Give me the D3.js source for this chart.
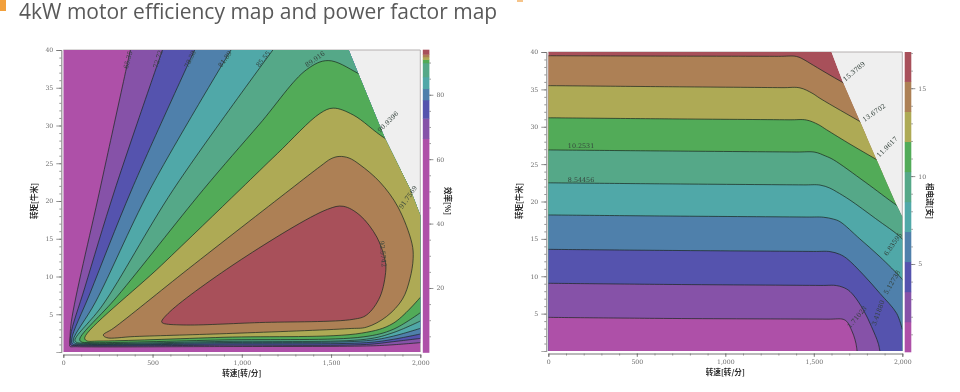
<!DOCTYPE html>
<html>
<head>
<meta charset="utf-8">
<script src="https://cdn.jsdelivr.net/npm/d3@7"></script>
<style>
  html, body { margin: 0; background: #fff; }
  svg { display: block; filter: blur(0.35px); }
</style>
</head>
<body>
<svg id="chart" width="960" height="392"></svg>
<script>
// band colours, low to high (both maps share them)
const bandColors = ["#ae50a8", "#8652a8", "#5553ae", "#4f80ab", "#50a8a8", "#55a888", "#52ab58", "#aeaa55", "#ad8055", "#a8505a"];

const speedTicks = [0, 500, 1000, 1500, 2000];
const torqueTicks = [5, 10, 15, 20, 25, 30, 35, 40];

// efficiency map: [speed, torque]
const effEnvelope = [[0, 0], [0, 40], [1599, 40], [1651, 37], [1802, 28.3], [1945, 21.5], [2000, 18.1], [2000, 0]];
const effC1 = [[385, 41], [205, 21.5], [45, 4], [37, 1.3], [37, 0.75], [70, 0.7], [900, 0.72], [1699, 0.8], [1830, 0.93], [2000, 1.24]];
const effC2 = [[570, 41], [289, 21.5], [120, 8.5], [41, 2.2], [42, 0.95], [75, 0.85], [900, 0.9], [1699, 1], [1848, 1.37], [2000, 1.8]];
const effC3 = [[755, 41], [383, 21.5], [150, 7.8], [47, 1.7], [52, 1.05], [90, 0.95], [900, 1.08], [1699, 1.24], [1848, 1.68], [2000, 2.38]];
const effC4 = [[965, 41], [485, 21.5], [180, 6.6], [56, 1.6], [62, 1.2], [105, 1.05], [900, 1.25], [1699, 1.5], [1848, 2.1], [2000, 3.13]];
const effC5 = [[1205, 41], [616, 21.5], [220, 6.2], [65, 1.6], [72, 1.3], [115, 1.15], [900, 1.4], [1699, 1.7], [1848, 2.56], [2000, 4.1]];
const effC6 = [[1886, 33.4], [1652, 36.9], [1484, 38.6], [1363, 37.4], [1100, 30.2], [784, 21.5], [300, 7.3], [92, 1.7], [100, 1.35], [150, 1.25], [900, 1.6], [1680, 2], [1848, 3], [2000, 5.2]];
const effC7 = [[2035, 25.4], [1802, 28.3], [1624, 31.4], [1512, 32.3], [1438, 31.6], [1200, 26.3], [990, 21.5], [550, 11.5], [120, 1.9], [130, 1.5], [200, 1.45], [900, 1.95], [1671, 2.5], [1848, 3.8], [2000, 7.24]];
const effC8 = [[224, 2.25], [280, 3.13], [700, 11], [1270, 21.5], [1440, 24.6], [1500, 25.6], [1545, 25.9], [1600, 25.7], [1662, 24.8], [1774, 22.5], [1875, 19.2], [1953, 14.4], [1960, 12.4], [1942, 9.7], [1900, 7], [1811, 4.7], [1700, 3.3], [1600, 3.1], [950, 2.47], [400, 2.05], [243, 1.9]];
const effC9 = [[551, 4], [597, 5.34], [1000, 12.3], [1480, 18.9], [1568, 19.3], [1662, 18.1], [1757, 15.2], [1802, 12.2], [1807, 10.9], [1774, 7.3], [1699, 4.9], [1624, 4.33], [1100, 3.9], [672, 3.58], [560, 3.8]];
const effBandEdges = [0, 66.4, 72.7, 78.4, 81.9, 85.55, 89.9, 90.94, 91.76, 92.57, 94];
const effBarTicks = [20, 40, 60, 80];
const effLabelText = ["65.35", "72.72", "78.38", "81.89", "85.55", "89.916", "90.9396", "91.7569", "92.5742"];
const effLabelAt = [[362, 38.7], [530, 38.8], [710, 38.8], [906, 38.8], [1119, 38.8], [1410, 38.8], [1819, 30.5], [1931, 20.5], [1791, 13]];
const effLabelAngle = [-75, -72, -65, -55, -50, -35, -45, -55, 85];

// phase current map
const curEnvelope = [[0, 0], [0, 40], [1600, 40], [1666, 35.9], [1761, 30.7], [1855, 25.6], [1968, 19.5], [2000, 18], [2000, 0]];
const curC9 = [[0, 39.5], [700, 39.45], [1300, 39.42], [1403, 39.4], [1450, 38.9], [1478, 38.5], [1570, 37.2], [1666, 35.9], [1798, 34.3]];
const curC8 = [[0, 35.5], [700, 35.35], [1320, 35.23], [1422, 35.2], [1490, 34.5], [1535, 33.8], [1650, 32.2], [1761, 30.7], [1892, 28.9]];
const curC7 = [[0, 31.2], [700, 31.05], [1360, 30.93], [1459, 30.9], [1525, 30.3], [1572, 29.6], [1710, 27.6], [1855, 25.6], [1986, 23.8]];
const curC6 = [[0, 26.9], [700, 26.75], [1400, 26.62], [1506, 26.6], [1565, 26.1], [1610, 25.6], [1790, 22.6], [1968, 19.5], [2043, 18.4]];
const curC5 = [[0, 22.5], [700, 22.35], [1440, 22.22], [1535, 22.2], [1590, 21.8], [1629, 21.3], [1704, 20.2], [1850, 17.7], [1996, 15.1], [2040, 13.8]];
const curC4 = [[0, 18.2], [700, 18.05], [1460, 17.92], [1553, 17.9], [1610, 17.65], [1648, 17.3], [1760, 15], [1874, 12.6], [1996, 9.7], [2030, 8.7]];
const curC3 = [[0, 13.6], [700, 13.45], [1500, 13.32], [1591, 13.3], [1645, 12.95], [1685, 12.4], [1780, 10.2], [1874, 7.7], [1968, 5.04], [2000, 2.9]];
const curC2 = [[0, 9.06], [700, 8.9], [1540, 8.77], [1629, 8.75], [1685, 8.3], [1723, 7.5], [1780, 5.5], [1826, 3.26], [1864, 1.03], [1874, -0.1]];
const curC1 = [[0, 4.5], [700, 4.35], [1580, 4.26], [1666, 4.24], [1690, 3.85], [1704, 3.26], [1725, 2.1], [1738, 1.03], [1745, -0.1]];
const curBandEdges = [0, 1.71, 3.42, 5.13, 6.84, 8.54, 10.25, 11.96, 13.67, 15.38, 17.06];
const curBarTicks = [5, 10, 15];
const curLabelText = ["15.3789", "13.6702", "11.9617", "10.2531", "8.54456", "6.83595", "5.12738", "3.41880", "1.71023"];
const curLabelAt = [[1727, 37.4], [1840, 31.9], [1914, 27.3], [185, 27.4], [185, 22.9], [1947, 14.3], [1942, 9.2], [1863, 5.1], [1744, 4.55]];
const curLabelAngle = [-40, -35, -45, 0, 0, -55, -60, -70, -50];

const svg = d3.select("#chart");
const CJK = "'Noto Sans CJK SC', sans-serif";

svg.append("rect").attr("x", 0).attr("y", 0).attr("width", 6).attr("height", 11).attr("fill", "#f2a03c");
svg.append("rect").attr("x", 517).attr("y", 0).attr("width", 6).attr("height", 2).attr("fill", "#f6c48a");
svg.append("text").attr("x", 19).attr("y", 18.5).attr("fill", "#595959")
    .style("font-family", "'Open Sans', sans-serif").style("font-size", "21px")
    .text("4kW motor efficiency map and power factor map");

/**
 * 画一张等值线图 + 右侧色条
 */
function drawMap(o) {
    const g = svg.append("g");
    const x = d3.scaleLinear().domain([0, 2000]).range(o.xRange);
    const y = d3.scaleLinear().domain([0, 40]).range(o.yRange);
    const line = d3.line().x(d => x(d[0])).y(d => y(d[1])).curve(d3.curveCatmullRom.alpha(0.5));
    const lineLoop = d3.line().x(d => x(d[0])).y(d => y(d[1])).curve(d3.curveCatmullRomClosed.alpha(0.5));
    const poly = d3.line().x(d => x(d[0])).y(d => y(d[1]));

    // 灰底和外框
    g.append("rect").attr("x", x(0)).attr("y", y(40))
        .attr("width", x(2000) - x(0)).attr("height", y(0) - y(40))
        .attr("fill", "#efefef");
    g.append("path").attr("d", poly([[0, 40], [2000, 40], [2000, 0]]))
        .attr("fill", "none").attr("stroke", "#b5b0b0");

    const clipId = o.id + "-clip";
    svg.append("clipPath").attr("id", clipId).append("path").attr("d", poly(o.envelope) + "Z");
    const inner = g.append("g").attr("clip-path", `url(#${clipId})`);

    inner.append("path").attr("d", poly(o.envelope) + "Z").attr("fill", bandColors[o.baseBand]);

    // 从外向内逐层覆盖
    o.contours.forEach(c => {
        const d = c.loop ? lineLoop(c.points) : line(c.points) + o.closeRegion(c.points, x, y) + "Z";
        inner.append("path").attr("d", d).attr("fill", bandColors[c.band]);
    });
    o.contours.forEach(c => {
        inner.append("path").attr("d", c.loop ? lineLoop(c.points) : line(c.points)).attr("fill", "none")
            .attr("stroke", "#1c2a22").attr("stroke-opacity", 0.8).attr("stroke-width", 0.9);
    });

    // 等值线标注
    o.labelText.forEach((t, i) => {
        const [s, q] = o.labelAt[i];
        g.append("text").attr("transform", `translate(${x(s)},${y(q)}) rotate(${o.labelAngle[i]})`)
            .attr("text-anchor", "middle").attr("dy", "0.35em")
            .attr("fill", "#33413b").style("font-family", "'DejaVu Serif', serif").style("font-size", "6.4px")
            .text(t);
    });

    // 坐标轴
    const axisY = g.append("g").attr("transform", `translate(${x(0) - 2},0)`);
    axisY.call(d3.axisLeft(y).tickValues(d3.range(1, 41)).tickSize(2).tickFormat(""));
    const majorY = g.append("g").attr("transform", `translate(${x(0) - 2},0)`)
        .call(d3.axisLeft(y).tickValues(torqueTicks).tickSize(5).tickPadding(3));
    const axisX = g.append("g").attr("transform", `translate(0,${y(0) + 2.5})`);
    axisX.call(d3.axisBottom(x).tickValues(d3.range(0, 2001, 100)).tickSize(2).tickFormat(""));
    const majorX = g.append("g").attr("transform", `translate(0,${y(0) + 2.5})`)
        .call(d3.axisBottom(x).tickValues(speedTicks).tickSize(3.5).tickPadding(3).tickFormat(d3.format(",")));

    // 色条
    const bar = d3.scaleLinear().domain(o.barDomain).range(o.barRange);
    const bands = d3.pairs(o.bandEdges);
    g.append("g").selectAll("rect").data(bands).join("rect")
        .attr("x", o.barX).attr("width", 6.6)
        .attr("y", d => bar(d[1])).attr("height", d => bar(d[0]) - bar(d[1]) + 0.4)
        .attr("fill", (d, i) => bandColors[i]);
    const axisBar = g.append("g").attr("transform", `translate(${o.barX + 6.6},0)`);
    axisBar.call(d3.axisRight(bar).tickValues(d3.range(o.barMinor, o.barDomain[1], o.barMinor)).tickSize(1.5).tickFormat(""));
    const majorBar = g.append("g").attr("transform", `translate(${o.barX + 6.6},0)`)
        .call(d3.axisRight(bar).tickValues(o.barTicks).tickSize(4).tickPadding(3));

    [axisY, majorY, axisX, majorX, axisBar, majorBar].forEach(a => {
        a.selectAll("path").attr("stroke", a === axisBar || a === majorBar ? "none" : "#888").attr("stroke-width", 0.7);
        a.selectAll("line").attr("stroke", "#666").attr("stroke-width", 0.7);
        a.selectAll("text").attr("fill", "#6a6a6a").style("font-family", "'DejaVu Serif', serif").style("font-size", "6.2px");
    });

    // 轴标题
    const title = (tx, ty, rot, text) => g.append("text")
        .attr("transform", `translate(${tx},${ty}) rotate(${rot})`)
        .attr("text-anchor", "middle").attr("dy", "0.35em").attr("fill", "#2c2c2c")
        .style("font-family", CJK).style("font-weight", 700).style("font-size", "7.6px").text(text);
    title((o.xRange[0] + o.xRange[1]) / 2, y(0) + 21, 0, "转速[转/分]");
    title(o.xRange[0] - 28.5, 201, -90, "转矩[牛米]");
    title(o.barTitleX, 201, 90, o.barTitle);
}

// 效率图：等值线外侧绕到右上角闭合
const closeOverCorner = (p, x, y) => {
    const a = p[0], b = p[p.length - 1];
    return `L${x(2100)},${y(b[1])}L${x(2100)},${y(45)}L${x(a[0])},${y(45)}`;
};
// 电流图：等值线下方全部填充
const closeUnder = (p, x, y) => {
    const b = p[p.length - 1];
    return `L${x(b[0])},${y(-1)}L${x(0)},${y(-1)}`;
};

const effContours = [effC1, effC2, effC3, effC4, effC5, effC6, effC7].map((points, i) => ({ points, band: i + 1 }));
effContours.push({ points: effC8, band: 8, loop: true });
effContours.push({ points: effC9, band: 9, loop: true });
drawMap({
    id: "eff", xRange: [63.3, 420.3], yRange: [352, 50], envelope: effEnvelope, baseBand: 0,
    contours: effContours, closeRegion: closeOverCorner,
    labelText: effLabelText, labelAt: effLabelAt, labelAngle: effLabelAngle,
    barX: 422.8, barDomain: [0, 93.9], barRange: [352.4, 50], bandEdges: effBandEdges,
    barTicks: effBarTicks, barMinor: 5, barTitle: "效率[%]", barTitleX: 448
});

const curContours = [curC9, curC8, curC7, curC6, curC5, curC4, curC3, curC2, curC1]
    .map((points, i) => ({ points, band: 8 - i }));
drawMap({
    id: "cur", xRange: [548.3, 902.3], yRange: [351, 52], envelope: curEnvelope, baseBand: 9,
    contours: curContours, closeRegion: closeUnder,
    labelText: curLabelText, labelAt: curLabelAt, labelAngle: curLabelAngle,
    barX: 904.7, barDomain: [0, 17.06], barRange: [351.9, 52], bandEdges: curBandEdges,
    barTicks: curBarTicks, barMinor: 1, barTitle: "相电流[安]", barTitleX: 930
});
</script>
</body>
</html>
